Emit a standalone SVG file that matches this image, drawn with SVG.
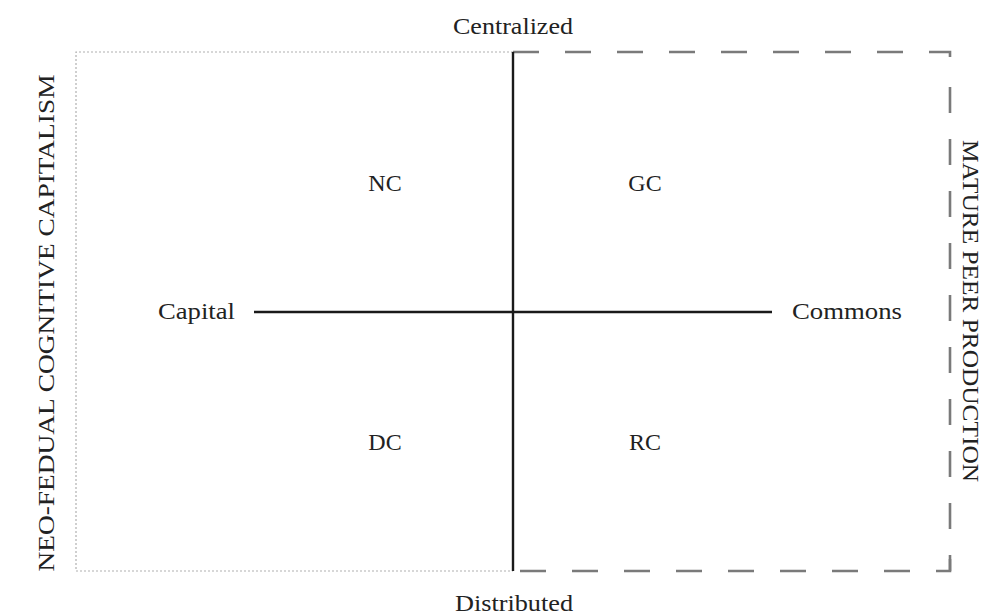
<svg xmlns="http://www.w3.org/2000/svg" width="991" height="615" viewBox="0 0 991 615">
<style>
text{font-family:"Liberation Serif","Times New Roman",serif;fill:#222;font-size:24px}
.m{text-anchor:middle}
.axis{stroke:#1a1a1a;stroke-width:2.4;fill:none}
.dot{stroke:#b0b0b0;stroke-width:1.2;stroke-dasharray:2 2;fill:none}
.dash{stroke:#7a7a7a;stroke-width:2.6;stroke-dasharray:26 26;fill:none}
</style>
<rect width="991" height="615" fill="#fff"/>
<g id="regions">
<g id="neo-feudal-region"><path class="dot" d="M513,52 H76 V571 H513"/></g>
<g id="peer-production-region">
<path class="dash" d="M513,52 H950 V62"/>
<path class="dash" d="M950,87 V571"/>
<path class="dash" d="M520,571 H950 V555"/>
</g>
</g>
<g id="connectors">
<line class="axis" x1="513" y1="52" x2="513" y2="571"/>
<line class="axis" x1="254" y1="312" x2="772" y2="312"/>
</g>
<g id="centralized"><text class="m" x="513" y="34" textLength="120" lengthAdjust="spacingAndGlyphs">Centralized</text></g>
<g id="distributed"><text class="m" x="514" y="611" textLength="118" lengthAdjust="spacingAndGlyphs">Distributed</text></g>
<g id="capital"><text x="158" y="319" textLength="77" lengthAdjust="spacingAndGlyphs">Capital</text></g>
<g id="commons"><text x="792" y="319" textLength="110" lengthAdjust="spacingAndGlyphs">Commons</text></g>
<g id="nc"><text class="m" x="385" y="191">NC</text></g>
<g id="gc"><text class="m" x="645" y="191">GC</text></g>
<g id="dc"><text class="m" x="385" y="450">DC</text></g>
<g id="rc"><text class="m" x="645" y="450">RC</text></g>
<g id="neo-feudal-label"><text class="m" transform="translate(54,323) rotate(-90)" textLength="497" lengthAdjust="spacingAndGlyphs">NEO-FEDUAL COGNITIVE CAPITALISM</text></g>
<g id="mature-peer-label"><text class="m" transform="translate(963,311) rotate(90)" textLength="342" lengthAdjust="spacingAndGlyphs">MATURE PEER PRODUCTION</text></g>
</svg>
